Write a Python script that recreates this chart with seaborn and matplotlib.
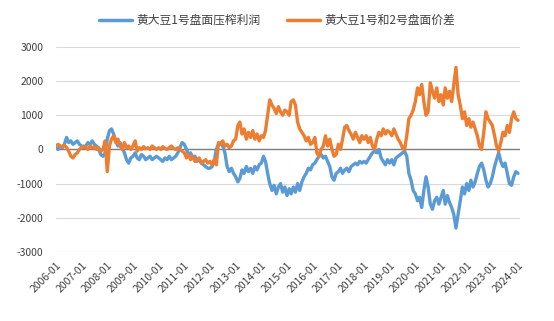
import matplotlib
matplotlib.use("Agg")
import matplotlib.pyplot as plt
import seaborn as sns
import pandas as pd
import numpy as np
from matplotlib.lines import Line2D

# ---- data (monthly readings, 2006-01 .. 2024-01) ----
series_names = ["黄大豆1号盘面压榨利润", "黄大豆1号和2号盘面价差"]
start_month = "2006-01-01"
end_month = "2024-01-01"

crush_margin = [
    # 2006
    50, 0, 100, 50, 150, 350, 200, 250, 150, 200, 250, 150,
    # 2007
    100, 50, 100, 200, 150, 250, 150, 100, 0, -150, -200, -100,
    # 2008
    300, 550, 600, 450, 250, 100, 200, 50, -100, -300, -400, -250,
    # 2009
    -200, -100, -250, -300, -150, -200, -300, -250, -200, -300, -250, -200,
    # 2010
    -250, -300, -350, -250, -300, -200, -300, -250, -200, -100, 50, 200,
    # 2011
    150, 0, -150, -100, -250, -200, -350, -300, -400, -450, -500, -550,
    # 2012
    -550, -500, -350, 0, 150, 200, 100, -100, -500, -650, -550, -700,
    # 2013
    -800, -950, -850, -600, -700, -500, -650, -550, -700, -500, -600, -450,
    # 2014
    -400, -200, -350, -700, -1000, -1200, -1050, -1300, -1100, -1000, -1250, -1100,
    # 2015
    -1350, -1150, -1300, -1100, -1250, -1000, -1200, -950, -800, -700, -550, -600,
    # 2016
    -450, -400, -300, -200, -150, -250, -200, -350, -500, -800, -900, -700,
    # 2017
    -650, -550, -700, -600, -550, -650, -500, -450, -400, -450, -350, -400,
    # 2018
    -350, -400, -300, -200, -100, -50, -100, 0, -250, -350, -450, -300,
    # 2019
    -400, -300, -450, -250, -200, -150, -100, -50, -200, -700, -900, -1200,
    # 2020
    -1300, -1500, -1400, -1700, -1200, -800, -1100, -1600, -1750, -1500, -1400, -1600,
    # 2021
    -1400, -1200, -1600, -1350, -1550, -1700, -1900, -2300, -1900, -1500, -1100, -1300,
    # 2022
    -1000, -1200, -900, -1100, -950, -700, -500, -400, -600, -900, -1100, -1000,
    # 2023
    -800, -500, -300, -100, -350, -500, -400, -700, -1000, -1050, -800, -650,
    # 2024
    -700,
]

bean_spread = [
    # 2006
    100, 150, 100, 80, 120, 60, -50, -200, -250, -150, -100, 0,
    # 2007
    50, 100, 50, 0, 100, 50, 80, 0, 50, -50, 0, 250,
    # 2008
    -650, 100, 300, 400, 200, 300, 100, 0, 200, 50, 100, 0,
    # 2009
    100, 250, -50, 50, 0, 80, 20, 50, 0, 100, 50, 0,
    # 2010
    50, 0, 80, 30, 0, 50, 100, 30, 0, 50, 0, -50,
    # 2011
    -100, -250, -150, -300, -200, -350, -300, -250, -400, -350, -300, -400,
    # 2012
    -350, -450, -300, -450, 200, 150, 250, 100, 150, 50, 100, 250,
    # 2013
    300, 700, 800, 450, 600, 300, 500, 350, 550, 300, 450, 250,
    # 2014
    400, 350, 550, 1000, 1450, 1300, 1200, 1050, 1250, 1100, 1000, 1150,
    # 2015
    1100, 1000, 1400, 1450, 1300, 800, 600, 500, 400, 250, 350, 150,
    # 2016
    200, 350, -100, -200, 0, 100, 400, 100, 300, 0, -200, -150,
    # 2017
    150, 0, 300, 650, 700, 550, 450, 300, 500, 350, 200, 400,
    # 2018
    300, 400, 200, 350, 100, 0, 300, 500, 400, 600, 450, 550,
    # 2019
    500, 400, 600, 450, 300, 200, 50, 0, 400, 900, 1000, 1150,
    # 2020
    1400, 1800, 1600, 1900, 1400, 1000, 1100, 1950, 1700, 1500, 1800, 1400,
    # 2021
    1600, 1300, 1800, 1500, 1700, 1400, 1900, 2400, 1600, 1300, 900, 1100,
    # 2022
    700, 900, 650, 800, 600, 400, 100, 0, 500, 1100, 900, 800,
    # 2023
    700, 400, 100, -50, 200, 500, 400, 700, 500, 900, 1100, 900,
    # 2024
    850,
]

y_ticks = [-3000, -2000, -1000, 0, 1000, 2000, 3000]
x_tick_years = list(range(2006, 2025))

# ---- build table ----
dates = pd.date_range(start_month, end_month, freq="MS")
df = pd.DataFrame({
    "date": np.concatenate([dates, dates]),
    "value": crush_margin + bean_spread,
    "series": [series_names[0]] * len(dates) + [series_names[1]] * len(dates),
})

# ---- style ----
sns.set_theme(style="white")
plt.rcParams["font.family"] = ["Noto Sans CJK SC", "DejaVu Sans"]
plt.rcParams["axes.unicode_minus"] = False

fig = plt.figure(figsize=(5.54, 3.21), dpi=100)
ax = fig.add_axes([0.101, 0.215, 0.838, 0.639])

palette = {series_names[0]: "#5B9BD5", series_names[1]: "#ED7D31"}
sns.lineplot(data=df, x="date", y="value", hue="series", palette=palette,
             linewidth=2.4, ax=ax, legend=False)

# gridlines & zero axis line
ax.set_ylim(-3000, 3000)
ax.set_yticks(y_ticks)
ax.yaxis.grid(True, color="#d9d9d9", linewidth=0.8)
ax.xaxis.grid(False)
ax.set_axisbelow(True)
ax.axhline(0, color="#7f7f7f", linewidth=1.0, zorder=1.5)
for s in ax.spines.values():
    s.set_visible(False)

ax.set_xlim(pd.Timestamp("2006-01-01"), pd.Timestamp("2024-02-01"))
xt = [pd.Timestamp(f"{y}-01-01") for y in x_tick_years]
ax.set_xticks(xt)
ax.set_xticklabels([f"{y}-01" for y in x_tick_years], rotation=45,
                   ha="right", rotation_mode="anchor")
ax.set_yticklabels([str(v) for v in y_ticks])
ax.tick_params(axis="both", length=0, labelsize=7.5, colors="#404040")
ax.tick_params(axis="x", pad=6)
ax.tick_params(axis="y", pad=9)
ax.set_xlabel("")
ax.set_ylabel("")

handles = [Line2D([0], [0], color=palette[n], linewidth=2.5) for n in series_names]
fig.legend(handles, series_names, loc="center", bbox_to_anchor=(0.5, 0.937),
           ncol=2, frameon=False, fontsize=8.5, handlelength=2.8,
           handletextpad=0.4, columnspacing=2.2, labelcolor="#404040")

fig.savefig("out.png", dpi=100)
